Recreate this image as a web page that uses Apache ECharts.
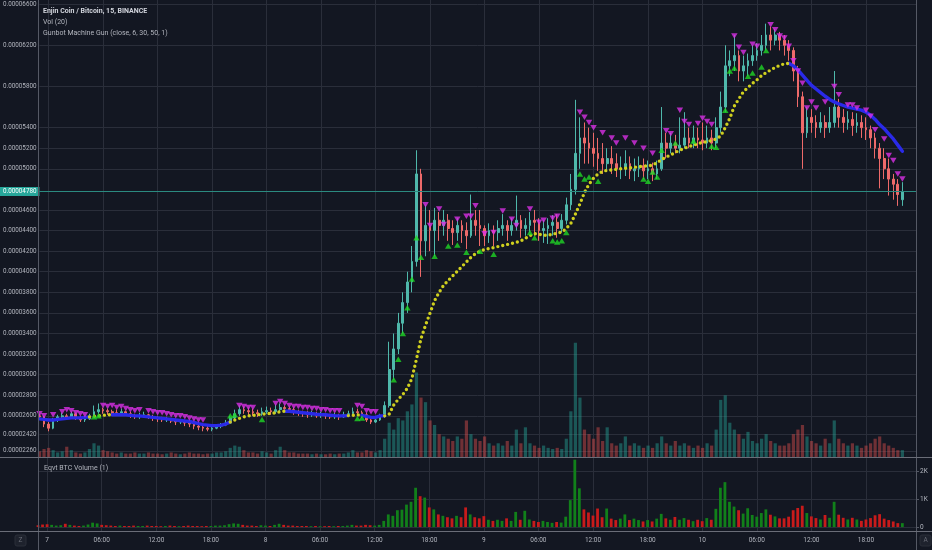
<!DOCTYPE html>
<html><head><meta charset="utf-8">
<script src="https://cdn.jsdelivr.net/npm/echarts@6/dist/echarts.min.js"></script>
<style>html,body{margin:0;padding:0;background:#131722;}#c{width:932px;height:550px;}</style>
</head><body><div id="c"></div>
<script>
// ---- time buckets: 30-minute candles, first bucket = day 6 23:00 ----
const categories = [];
for (let i = 0; i < 194; i++) {
  const m = 23 * 60 + i * 30;
  const d = 6 + Math.floor(m / 1440), mm = m % 1440;
  categories.push(d + ' ' + String(Math.floor(mm / 60)).padStart(2, '0') + ':' + String(mm % 60).padStart(2, '0'));
}
// ---- price ticks (satoshi) and volume ticks ----
const priceTicks = [6600,6200,5800,5400,5200,5000,4600,4400,4200,4000,3800,3600,3400,3200,3000,2800,2600,2420,2260];
const btcTicks = [0,1000,2000];
const lastPrice = 4780;
// ---- candles [open, close, low, high] in satoshi ----
const ohlc = [
[2600,2590,2560,2620],[2590,2520,2490,2600],[2520,2480,2450,2540],[2480,2560,2470,2580],[2560,2590,2540,2610],
[2590,2600,2570,2630],[2600,2580,2560,2620],[2580,2620,2570,2640],[2620,2580,2560,2630],[2580,2560,2540,2600],
[2560,2570,2540,2590],[2570,2600,2560,2620],[2600,2640,2590,2700],[2640,2660,2620,2720],[2660,2650,2620,2680],
[2650,2640,2610,2670],[2640,2630,2600,2660],[2630,2620,2600,2660],[2620,2640,2600,2670],[2640,2620,2600,2650],
[2620,2600,2580,2640],[2600,2590,2570,2620],[2590,2600,2570,2630],[2600,2610,2580,2640],[2610,2590,2570,2620],
[2590,2580,2550,2610],[2580,2570,2540,2600],[2570,2560,2540,2590],[2560,2570,2540,2590],[2570,2550,2530,2580],
[2550,2540,2510,2570],[2540,2550,2520,2570],[2550,2530,2500,2560],[2530,2520,2490,2550],[2520,2500,2470,2530],
[2500,2490,2460,2520],[2490,2480,2450,2510],[2480,2470,2450,2500],[2470,2480,2450,2500],[2480,2500,2470,2520],
[2500,2510,2480,2530],[2510,2530,2500,2560],[2530,2580,2520,2600],[2580,2620,2560,2660],[2620,2660,2600,2700],
[2660,2650,2620,2690],[2650,2640,2610,2680],[2640,2630,2600,2670],[2630,2620,2590,2660],[2620,2640,2600,2680],
[2640,2650,2620,2690],[2650,2640,2610,2680],[2640,2660,2620,2710],[2660,2680,2640,2720],[2680,2670,2640,2700],
[2670,2660,2630,2690],[2660,2640,2610,2680],[2640,2630,2600,2660],[2630,2620,2590,2650],[2620,2610,2580,2650],
[2610,2620,2590,2650],[2620,2600,2580,2640],[2600,2610,2580,2640],[2610,2600,2570,2630],[2600,2590,2570,2620],
[2590,2600,2570,2630],[2600,2590,2560,2620],[2590,2610,2580,2640],[2610,2620,2590,2650],[2620,2640,2600,2680],
[2640,2630,2600,2670],[2630,2610,2580,2650],[2610,2560,2540,2630],[2560,2540,2520,2580],[2540,2560,2530,2590],
[2560,2600,2550,2620],
[2600,2700,2580,2740],[2700,3050,2680,3320],[3050,3250,2950,3400],[3250,3500,3200,3600],[3500,3700,3400,3800],
[3700,3900,3600,4000],[3900,4100,3800,4250],[4100,4950,4050,5180],[4950,4300,3950,5000],[4300,4450,4150,4650],
[4450,4400,4200,4600],[4400,4500,4150,4620],[4500,4450,4300,4580],[4450,4500,4350,4600],[4500,4420,4300,4560],
[4420,4380,4260,4500],[4380,4450,4300,4520],[4450,4400,4280,4500],[4400,4350,4220,4480],[4350,4500,4330,4750],
[4500,4450,4350,4600],[4450,4420,4250,4600],[4420,4350,4250,4450],[4350,4400,4280,4470],[4400,4380,4250,4450],
[4380,4420,4300,4500],[4420,4450,4350,4560],[4450,4400,4300,4500],[4400,4450,4350,4520],[4450,4500,4400,4740],
[4500,4420,4330,4550],[4420,4450,4350,4520],[4450,4500,4380,4580],[4500,4480,4350,4600],[4480,4400,4300,4520],
[4400,4420,4280,4500],[4420,4450,4270,4520],[4450,4480,4350,4550],[4480,4420,4330,4560],[4420,4500,4380,4560],
[4500,4650,4460,4720],[4650,4800,4600,4950],[4800,5150,4750,5670],[5150,5300,5000,5500],[5300,5250,5050,5450],
[5250,5200,5050,5400],[5200,5150,5020,5350],[5150,5100,4980,5300],[5100,5050,4950,5250],[5050,5100,4980,5200],
[5100,5050,4950,5220],[5050,5000,4920,5150],[5000,5000,4900,5120],[5000,5050,4930,5180],[5050,4980,4900,5120],
[4980,5000,4880,5100],[5000,5030,4920,5120],[5030,4980,4900,5100],[4980,5000,4900,5080],[5000,4950,4880,5060],
[4950,5000,4900,5080],[5000,5250,4980,5600],[5250,5200,5100,5350],[5200,5250,5150,5350],[5250,5200,5150,5330],
[5200,5230,5150,5500],[5230,5300,5200,5550],[5300,5250,5200,5400],[5250,5300,5200,5420],[5300,5280,5200,5400],
[5280,5250,5180,5450],[5250,5300,5200,5420],[5300,5250,5180,5380],[5250,5400,5200,5500],[5400,5600,5350,5750],
[5600,6000,5550,6200],[6000,6050,5900,6150],[6050,6100,5950,6300],[6100,5950,5850,6150],[5950,6000,5850,6100],
[6000,6050,5900,6120],[6050,6100,6000,6200],[6100,6150,6050,6220],[6150,6200,6100,6300],[6200,6300,6150,6410],
[6300,6250,6150,6380],[6250,6300,6200,6360],[6300,6250,6150,6330],[6250,6200,6100,6300],[6200,6150,6050,6250],
[6150,5950,5850,6180],[5950,5700,5600,6000],[5700,5350,5000,5750],[5350,5500,5300,5600],[5500,5450,5350,5580],
[5450,5400,5300,5520],[5400,5450,5350,5550],[5450,5400,5300,5520],[5400,5450,5350,5600],[5450,5600,5400,5950],
[5600,5500,5400,5680],[5500,5450,5350,5580],[5450,5480,5380,5560],[5480,5420,5320,5550],[5420,5450,5350,5540],
[5450,5400,5300,5520],[5400,5380,5280,5500],[5380,5300,5200,5420],[5300,5200,5100,5350],[5200,5100,4810,5250],
[5100,5000,4900,5200],[5000,4900,4740,5100],[4900,4850,4700,4950],[4850,4750,4640,4900],[4700,4780,4640,4870]
];
// ---- Vol (20): volume in millions of ENJ ----
const volM = [
2.5,3.5,4.0,3.0,2.0,2.5,4.5,3.0,2.0,1.5,2.0,3.5,6.0,5.0,3.0,2.5,2.0,1.5,2.0,1.5,
1.5,2.0,1.5,1.5,2.0,1.5,1.5,1.2,1.5,2.0,1.5,1.2,1.5,2.0,1.5,1.5,1.2,1.5,1.5,2.0,
2.0,2.5,4.0,5.0,4.5,3.0,2.0,2.0,1.5,2.5,2.0,1.5,3.0,4.5,3.0,2.0,2.0,1.5,1.5,1.5,
1.2,1.5,1.2,1.2,1.5,1.2,1.5,1.5,2.0,3.0,2.0,2.0,3.0,2.5,2.0,3.0,
8,15,12,17,16,20,23,37,26,24,
16,14,10,9,8,7,9,8,16,10,
8,7,9,6,5,6,5,7,5,12,
6,13,6,5,4,5,4,3.5,4,3.5,
8,20,50,26,12,10,8,13,7,13,
6,5,6,9,5,6,5,4,5,4,
6,9,6,5,7,5,6,5,4,5,
4,6,5,12,25,27,15,12,10,8,
11,7,6,8,10,7,6,5,5,6,
10,12,14,9,7,6,5,8,6,16,
8,6,5,6,5,4,5,6,8,9,
6,5,4,3,3
];
// ---- Eqvt BTC Volume (1) ----
const btcVol = [
65,90,100,78,52,65,117,78,52,39,52,91,156,130,78,65,52,39,52,39,
39,52,39,39,52,39,39,31,39,52,39,31,39,52,39,39,31,39,39,52,
52,65,104,130,117,78,52,52,39,65,52,39,78,117,78,52,52,39,39,39,
31,39,31,31,39,31,39,39,52,78,52,52,78,65,52,78,
220,450,400,600,620,800,900,1400,1100,1050,
700,630,450,400,350,310,400,350,700,450,
350,310,390,260,220,260,220,310,220,540,
260,580,270,220,180,220,180,150,180,160,
370,960,2400,1380,630,520,410,660,350,660,
300,250,300,450,250,300,250,200,250,200,
300,470,310,260,360,260,320,260,210,260,
210,320,260,650,1400,1600,900,730,600,480,
670,430,370,500,630,440,380,310,310,370,
600,680,760,500,380,320,270,430,330,900,
440,330,270,330,270,220,270,320,420,460,
300,250,200,140,140
];
// ---- Gunbot moving average (satoshi) ----
const maValues = [
2570,2565,2560,2560,2565,2570,2575,2580,2580,2580,2585,2590,2595,2600,2605,2610,2610,2610,2610,2610,
2605,2600,2600,2595,2590,2585,2580,2575,2570,2565,2560,2555,2550,2545,2535,2525,2515,2510,2505,2505,
2510,2520,2540,2560,2575,2590,2600,2605,2610,2615,2620,2625,2630,2640,2645,2645,2640,2635,2630,2625,
2620,2615,2612,2610,2605,2602,2600,2600,2602,2605,2610,2605,2595,2585,2585,2600,
2600,2617,2705,2760,2808,2868,2964,3150,3350,3480,
3600,3720,3800,3870,3915,3960,4005,4050,4095,4140,
4175,4200,4215,4225,4235,4245,4255,4265,4275,4285,
4300,4325,4350,4370,4365,4355,4355,4365,4375,4385,
4420,4470,4560,4660,4770,4850,4910,4950,4975,4985,
4990,4995,5000,5005,5010,5015,5020,5025,5030,5035,
5060,5090,5115,5135,5160,5180,5200,5215,5230,5245,
5255,5265,5275,5290,5320,5400,5490,5610,5680,5750,
5790,5830,5865,5905,5935,5960,5985,6005,6020,6025,
6000,5960,5910,5860,5810,5775,5740,5705,5674,5650,
5630,5615,5600,5590,5580,5570,5550,5520,5480,5430,
5390,5340,5290,5230,5170
];
// index ranges where the average is drawn blue (falling) or yellow (rising)
const maBlueRanges = [[0,11],[16,42],[54,68],[71,76],[165,190]];
const maYellowRanges = [[11,16],[42,54],[68,71],[76,165]];
// ---- buy / sell signals [index, satoshi] ----
const buySignals = [
[12,2590],[13,2600],[42,2600],[43,2610],[49,2565],[70,2575],[71,2580],
[78,2950],[79,3150],[80,3400],[81,3650],[82,3930],[83,4330],[84,4140],[87,4150],[90,4250],[92,4260],[94,4190],
[97,4200],[100,4170],[108,4380],[109,4330],[113,4300],[114,4290],[115,4300],[116,4380],[119,4950],[120,4900],
[121,4920],[123,4880],[133,4900],[134,4880],[135,4970],[136,4920],[137,5180],[140,5250],[144,5270],[148,5220],
[149,5210],[151,5570],[152,5950],[153,5980],[156,5900],[157,5930],[159,5990],[160,6150]
];
const sellSignals = [
[0,2620],[1,2600],[3,2610],[5,2640],[6,2660],[7,2650],[8,2630],[9,2620],[10,2610],[14,2700],[15,2690],[16,2700],
[17,2680],[18,2690],[19,2670],[20,2660],[21,2650],[22,2660],[24,2650],[25,2640],[26,2630],[27,2630],[28,2620],
[29,2610],[30,2600],[31,2600],[32,2590],[33,2580],[34,2570],[35,2560],[36,2560],[44,2700],[45,2690],[46,2680],
[47,2680],[52,2720],[53,2740],[54,2720],[55,2700],[56,2690],[57,2690],[58,2680],[59,2680],[60,2670],[61,2670],
[62,2660],[63,2660],[64,2650],[65,2650],[66,2650],[70,2700],[71,2690],[72,2650],[73,2640],[74,2640],
[85,4650],[86,4450],[88,4610],[89,4460],[92,4510],[94,4540],[95,4540],[96,4640],[98,4370],[100,4380],[102,4590],
[104,4510],[105,4450],[108,4610],[110,4480],[111,4500],[113,4520],[114,4540],[119,5550],[120,5500],[121,5450],
[122,5400],[124,5350],[126,5300],[127,5250],[129,5300],[131,5250],[133,5200],[135,5150],[138,5370],[139,5340],
[141,5570],[142,5460],[143,5430],[145,5440],[146,5490],[147,5460],[148,5430],[153,6290],[154,6180],[155,6130],
[157,6210],[158,6190],[161,6400],[162,6350],[163,6290],[164,6270],[165,6190],[166,6050],[167,5950],[168,5830],
[169,5590],[170,5650],[171,5590],[173,5650],[175,5800],[176,5720],[178,5620],[179,5620],[180,5590],[182,5570],
[183,5510],[184,5380],[186,5290],[187,5130],[188,5080],[189,4950],[190,4900]
];

const FONT = 'Roboto, "Noto Sans", sans-serif';
const TXT = '#b2b5be';
const GRID_C = '#2a2e3a';
const LINE_C = '#555965';
const isUp = i => ohlc[i][1] >= ohlc[i][0];
const dayTick = idx => (idx - 2) % 12 === 0;
const pick = ranges => maValues.map((v, i) => ranges.some(r => i >= r[0] && i <= r[1]) ? v : null);

const chart = echarts.init(document.getElementById('c'), null, {renderer: 'canvas'});
chart.setOption({
  backgroundColor: '#131722',
  animation: false,
  textStyle: {fontFamily: FONT},
  grid: [
    {left: 38, right: 16, top: 0, height: 457, show: true, borderColor: 'transparent', borderWidth: 0},
    {left: 38, right: 16, top: 458, height: 73, show: true, borderColor: 'transparent', borderWidth: 0}
  ],
  xAxis: [
    {type: 'category', gridIndex: 0, data: categories, boundaryGap: false,
     axisLine: {show: false}, axisTick: {show: false}, axisLabel: {show: false},
     splitLine: {show: true, interval: dayTick, lineStyle: {color: GRID_C, width: 1}}},
    {type: 'category', gridIndex: 1, data: categories, boundaryGap: false,
     axisLine: {show: false}, axisTick: {show: false},
     axisLabel: {show: true, interval: dayTick, color: TXT, fontSize: 6.5, fontFamily: FONT, margin: 6,
       formatter: v => v.endsWith('00:00') ? v.split(' ')[0] : v.split(' ')[1]},
     splitLine: {show: true, interval: dayTick, lineStyle: {color: GRID_C, width: 1}}}
  ],
  yAxis: [
    {type: 'value', gridIndex: 0, position: 'left', min: 2200, max: 6640,
     axisLine: {show: false},
     axisTick: {show: false, customValues: priceTicks},
     axisLabel: {customValues: priceTicks, color: TXT, fontSize: 6.3, fontFamily: FONT, margin: 3,
       formatter: v => (v / 1e8).toFixed(8)},
     splitLine: {show: true, lineStyle: {color: GRID_C, width: 1}}},
    {type: 'value', gridIndex: 0, min: 0, max: 200, show: false, splitLine: {show: false}},
    {type: 'value', gridIndex: 1, position: 'right', min: -140, max: 2460,
     axisLine: {show: false},
     axisTick: {show: true, customValues: btcTicks, length: 3, lineStyle: {color: LINE_C}},
     axisLabel: {customValues: btcTicks, color: TXT, fontSize: 6.5, fontFamily: FONT, margin: 4,
       formatter: v => v === 0 ? '0' : (v / 1000) + 'K'},
     splitLine: {show: true, lineStyle: {color: GRID_C, width: 1}}}
  ],
  series: [
    {name: 'Vol', type: 'bar', xAxisIndex: 0, yAxisIndex: 1, barWidth: 3.2, z: 1,
     data: volM.map((v, i) => ({value: v, itemStyle: {color: isUp(i) ? 'rgba(38,166,154,0.45)' : 'rgba(239,83,80,0.42)'}}))},
    {name: 'ENJBTC', type: 'candlestick', xAxisIndex: 0, yAxisIndex: 0, barWidth: 2.2, z: 3,
     data: ohlc,
     itemStyle: {color: '#4fb8ab', color0: '#ee6a6a', borderColor: '#4fb8ab', borderColor0: '#ee6a6a', borderWidth: 1},
     markLine: {silent: true, symbol: 'none', animation: false,
       lineStyle: {color: '#2b8a80', type: 'solid', width: 1},
       label: {show: true, position: 'start', distance: 0, formatter: () => (lastPrice / 1e8).toFixed(8),
         color: '#ffffff', backgroundColor: '#26a69a', padding: [2, 3, 1, 3], fontSize: 6.3, fontFamily: FONT},
       data: [{yAxis: lastPrice}]}},
    {name: 'MA falling', type: 'line', xAxisIndex: 0, yAxisIndex: 0, data: pick(maBlueRanges), z: 4,
     showSymbol: false, connectNulls: false,
     lineStyle: {width: 3.4, color: '#2a2ae8', cap: 'round', join: 'round'}, itemStyle: {color: '#2a2ae8'}},
    {name: 'MA rising', type: 'line', xAxisIndex: 0, yAxisIndex: 0, data: pick(maYellowRanges), z: 4,
     symbol: 'circle', symbolSize: 3.6, showSymbol: true, connectNulls: false,
     itemStyle: {color: '#cfcf1f'},
     lineStyle: {width: 3.4, color: '#cfcf1f', type: [0, 5], cap: 'round'}},
    {name: 'Buy', type: 'scatter', xAxisIndex: 0, yAxisIndex: 0, data: buySignals, z: 5,
     symbol: 'triangle', symbolSize: [6.5, 5.5], itemStyle: {color: '#1fd626'}},
    {name: 'Sell', type: 'scatter', xAxisIndex: 0, yAxisIndex: 0, data: sellSignals, z: 5,
     symbol: 'triangle', symbolRotate: 180, symbolSize: [6.5, 5.5], itemStyle: {color: '#d92fe6'}},
    {name: 'Eqvt BTC Volume', type: 'bar', xAxisIndex: 1, yAxisIndex: 2, barWidth: 2.8, z: 2,
     data: btcVol.map((v, i) => ({value: v, itemStyle: {color: isUp(i) ? '#11801a' : '#c81b1b'}}))}
  ],
  graphic: [
    {type: 'line', shape: {x1: 38.5, y1: 0, x2: 38.5, y2: 550}, style: {stroke: LINE_C, lineWidth: 1}, silent: true, z: 10},
    {type: 'line', shape: {x1: 916.5, y1: 0, x2: 916.5, y2: 550}, style: {stroke: LINE_C, lineWidth: 1}, silent: true, z: 10},
    {type: 'line', shape: {x1: 0, y1: 457.5, x2: 932, y2: 457.5}, style: {stroke: '#6a6d78', lineWidth: 1}, silent: true, z: 10},
    {type: 'line', shape: {x1: 0, y1: 531.5, x2: 932, y2: 531.5}, style: {stroke: '#6a6d78', lineWidth: 1}, silent: true, z: 10},
    {type: 'text', left: 43, top: 8, z: 11, style: {text: 'Enjin Coin / Bitcoin, 15, BINANCE', fill: '#d1d4dc', font: 'bold 7px ' + FONT}},
    {type: 'text', left: 43, top: 19, z: 11, style: {text: 'Vol (20)', fill: TXT, font: '7px ' + FONT}},
    {type: 'text', left: 43, top: 30, z: 11, style: {text: 'Gunbot Machine Gun (close, 6, 30, 50, 1)', fill: TXT, font: '7px ' + FONT}},
    {type: 'text', left: 44, top: 465, z: 11, style: {text: 'Eqvt BTC Volume (1)', fill: TXT, font: '7px ' + FONT}},
    {type: 'rect', shape: {x: 15, y: 535, width: 11, height: 11, r: 2}, style: {fill: '#1e222d', stroke: '#2a2e39'}, silent: true, z: 10},
    {type: 'text', x: 20.5, y: 540.5, z: 11, style: {text: 'Z', fill: '#6a6d78', font: '6.5px ' + FONT, align: 'center', verticalAlign: 'middle'}},
    {type: 'rect', shape: {x: 920, y: 535, width: 11, height: 11, r: 2}, style: {fill: '#1e222d', stroke: '#2a2e39'}, silent: true, z: 10},
    {type: 'text', x: 925.5, y: 540.5, z: 11, style: {text: 'A', fill: '#6a6d78', font: '6.5px ' + FONT, align: 'center', verticalAlign: 'middle'}}
  ]
});
</script>
</body></html>
